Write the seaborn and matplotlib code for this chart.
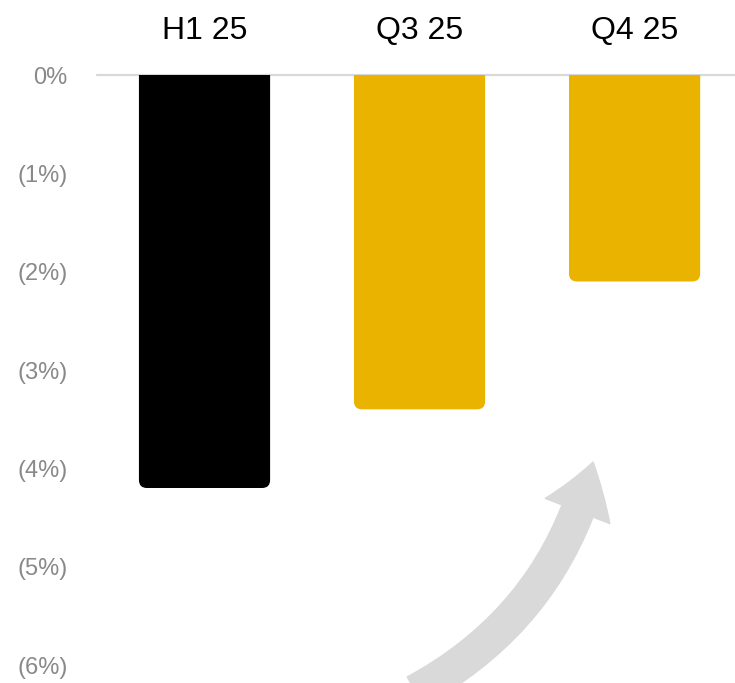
import matplotlib
matplotlib.use("Agg")
import matplotlib.pyplot as plt
from matplotlib.patches import FancyBboxPatch, FancyArrowPatch
import seaborn as sns
import pandas as pd

# Change versus baseline, in percent
periods = ["H1 25", "Q3 25", "Q4 25"]
change_pct = [-4.2, -3.4, -2.1]
bar_colors = ["#000000", "#E9B300", "#E9B300"]
y_ticks = [0, -1, -2, -3, -4, -5, -6]
y_tick_labels = ["0%", "(1%)", "(2%)", "(3%)", "(4%)", "(5%)", "(6%)"]

sns.set_theme(style="white")
plt.rcParams["font.family"] = ["Liberation Sans", "DejaVu Sans"]

W, H, DPI = 735, 683, 100
fig = plt.figure(figsize=(W / DPI, H / DPI), dpi=DPI)
ax = fig.add_axes([97 / W, 0.0, 1 - 97 / W, (H - 75) / H])

df = pd.DataFrame({"period": periods, "change": change_pct})
sns.barplot(data=df, x="period", y="change", hue="period", palette=bar_colors,
            width=0.61, legend=False, ax=ax, saturation=1)

ax.set_xlim(-0.5, 2.467)
ax.set_ylim(-6.183, 0)

# Round the bottom corners of every bar; the top rounding sits above 0 and is clipped
x_px_per_unit = (W - 97) / (2.467 + 0.5)
y_px_per_unit = (H - 75) / 6.183
radius_x = 8 / x_px_per_unit
aspect = x_px_per_unit / y_px_per_unit
for p in list(ax.patches):
    bb = p.get_bbox()
    ymin, ymax = min(bb.y0, bb.y1), max(bb.y0, bb.y1)
    color = p.get_facecolor()
    p.remove()
    rb = FancyBboxPatch((bb.x0, ymin), bb.x1 - bb.x0, (ymax - ymin) + 0.3,
                        boxstyle=f"round,pad=0,rounding_size={radius_x}",
                        mutation_aspect=aspect, facecolor=color, edgecolor="none",
                        zorder=2, clip_on=True)
    ax.add_patch(rb)

# Zero baseline
ax.axhline(0, color="#D9D9D9", lw=1.6, zorder=1, clip_on=False)

# Curved upward arrow
arrow = FancyArrowPatch((0.98, -6.27), (1.807, -3.936),
                        connectionstyle="arc3,rad=0.22",
                        arrowstyle="simple,head_length=37,head_width=50,tail_width=24",
                        mutation_scale=1, color="#D9D9D9", shrinkA=0, shrinkB=0,
                        zorder=1)
ax.add_patch(arrow)

ax.set_yticks(y_ticks)
ax.set_yticklabels(y_tick_labels, fontsize=17, color="#898989")
ax.xaxis.tick_top()
ax.tick_params(axis="x", length=0, pad=21, labelsize=23, labelcolor="#000000")
ax.tick_params(axis="y", length=0, pad=21)
ax.set_xlabel("")
ax.set_ylabel("")
for s in ax.spines.values():
    s.set_visible(False)
ax.grid(False)

fig.savefig("out.png", dpi=DPI)
